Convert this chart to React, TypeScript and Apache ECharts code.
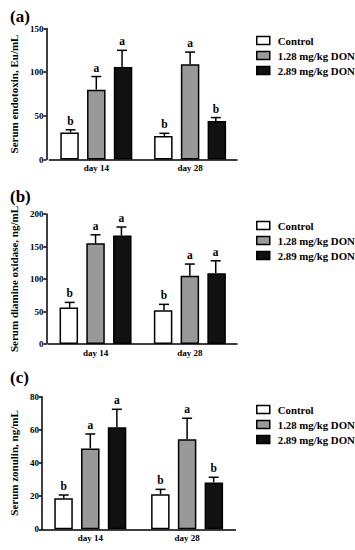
import React, { useEffect, useRef } from "react";
import * as echarts from "echarts";

const categories = ["day 14", "day 28"];
const groupNames = ["Control", "1.28 mg/kg DON", "2.89 mg/kg DON"];

// (a) Serum endotoxin
const endoControl = [31, 27];
const endoLow = [80, 109];
const endoHigh = [106, 44];
const endoControlErr = [3, 3];
const endoLowErr = [15, 14];
const endoHighErr = [19, 4];
const endoLetters = [["b", "b"], ["a", "a"], ["a", "b"]];

// (b) Serum diamine oxidase
const daoControl = [56, 52];
const daoLow = [155, 105];
const daoHigh = [167, 109];
const daoControlErr = [8, 9];
const daoLowErr = [13, 18];
const daoHighErr = [13, 19];
const daoLetters = [["b", "b"], ["a", "a"], ["a", "a"]];

// (c) Serum zonulin
const zonControl = [18.7, 21.1];
const zonLow = [48.8, 54.3];
const zonHigh = [61.5, 28.3];
const zonControlErr = [2, 3];
const zonLowErr = [8.7, 12.7];
const zonHighErr = [10.9, 3.1];
const zonLetters = [["b", "b"], ["a", "a"], ["a", "b"]];

const yMax = [150, 200, 80];
const yInterval = [50, 50, 20];
const panelLabels = ["(a)", "(b)", "(c)"];
const yNames = ["Serum endotoxin, Eu/mL", "Serum diamine oxidase, ng/mL", "Serum zonulin, ng/mL"];

const FONT = "'Liberation Serif', 'Times New Roman', serif";
const fills = ["#ffffff", "#999999", "#111111"];

const panels = [
  { means: [endoControl, endoLow, endoHigh], errs: [endoControlErr, endoLowErr, endoHighErr], letters: endoLetters },
  { means: [daoControl, daoLow, daoHigh], errs: [daoControlErr, daoLowErr, daoHighErr], letters: daoLetters },
  { means: [zonControl, zonLow, zonHigh], errs: [zonControlErr, zonLowErr, zonHighErr], letters: zonLetters },
];

const grids = [
  { left: 42, top: 28.5, width: 195, height: 131, yOffset: 3 },
  { left: 42, top: 214, width: 195, height: 130, yOffset: 2 },
  { left: 39.5, top: 396.7, width: 196, height: 132.6, yOffset: 0 },
];
const legendTops = [30, 215, 399];
const titleTops = [3, 183, 364];

export default function App() {
  const ref = useRef<HTMLDivElement>(null);
  useEffect(() => {
    if (!ref.current) return;
    const chart = echarts.init(ref.current, null, { renderer: "svg" });
    const series: any[] = [];
    const offsets = [-0.2744, 0, 0.2744];
    panels.forEach((p, pi) => {
      p.means.forEach((m, gi) => {
        series.push({
          type: "bar",
          name: groupNames[gi],
          xAxisIndex: pi,
          yAxisIndex: pi,
          data: m,
          barWidth: 18.5,
          barGap: "44.6%",
          itemStyle: { color: fills[gi], borderColor: "#000", borderWidth: 1.5 },
        });
      });
      p.means.forEach((m, gi) => {
        const data = m.map((v, ci) => [ci, v, v + p.errs[gi][ci], p.letters[gi][ci]]);
        series.push({
          type: "custom",
          xAxisIndex: pi,
          yAxisIndex: pi,
          data,
          encode: { x: 0, y: [1, 2] },
          z: 5,
          renderItem: (params: any, api: any) => {
            const ci = api.value(0);
            const p0 = api.coord([ci, api.value(1)]);
            const p1 = api.coord([ci, api.value(2)]);
            const bw = api.size([1, 0])[0];
            const x = p0[0] + offsets[gi] * bw;
            const letter = data[params.dataIndex][3];
            const st = { stroke: "#000", lineWidth: 1.5 };
            return {
              type: "group",
              children: [
                { type: "line", shape: { x1: x, y1: p0[1], x2: x, y2: p1[1] }, style: st },
                { type: "line", shape: { x1: x - 5, y1: p1[1], x2: x + 5, y2: p1[1] }, style: st },
                {
                  type: "text",
                  x,
                  y: p1[1] - 3,
                  style: {
                    text: letter,
                    fill: "#000",
                    font: `bold 11.5px ${FONT}`,
                    textAlign: "center",
                    textVerticalAlign: "bottom",
                  },
                },
              ],
            };
          },
        });
      });
    });

    const option: any = {
      animation: false,
      backgroundColor: "#fff",
      title: panelLabels.map((t, i) => ({
        text: t,
        left: 5,
        top: titleTops[i],
        textStyle: { fontFamily: FONT, fontWeight: "bold", fontSize: 17, color: "#000" },
      })),
      legend: legendTops.map((top) => ({
        orient: "vertical",
        left: 251,
        top,
        itemWidth: 13,
        itemHeight: 8,
        itemGap: 4,
        icon: "rect",
        selectedMode: false,
        data: groupNames.map((n, gi) => ({
          name: n,
          itemStyle: { color: fills[gi], borderColor: "#000", borderWidth: 1.5 },
        })),
        textStyle: { fontFamily: FONT, fontWeight: "bold", fontSize: 10.8, color: "#000", padding: [0, 0, 0, 3] },
      })),
      grid: grids.map((g) => ({ left: g.left, top: g.top, width: g.width, height: g.height })),
      xAxis: grids.map((g, i) => ({
        type: "category",
        gridIndex: i,
        data: categories,
        axisLine: { lineStyle: { color: "#000", width: 1.5 } },
        axisTick: { alignWithLabel: true, length: 3, lineStyle: { color: "#000", width: 1.5 } },
        axisLabel: { fontFamily: FONT, fontWeight: "bold", fontSize: 9, color: "#000", margin: 4 },
      })),
      yAxis: grids.map((g, i) => ({
        type: "value",
        gridIndex: i,
        min: 0,
        max: yMax[i],
        interval: yInterval[i],
        offset: g.yOffset,
        name: yNames[i],
        nameLocation: "middle",
        nameGap: 19,
        nameTextStyle: { fontFamily: FONT, fontWeight: "bold", fontSize: 11, color: "#000" },
        splitLine: { show: false },
        axisLine: { show: true, lineStyle: { color: "#000", width: 1.5 } },
        axisTick: { show: true, length: 3, lineStyle: { color: "#000", width: 1.5 } },
        axisLabel: { fontFamily: FONT, fontWeight: "bold", fontSize: 9, color: "#000", margin: 3 },
      })),
      series,
    };
    chart.setOption(option);
    return () => chart.dispose();
  }, []);
  return <div ref={ref} style={{ width: 355, height: 550, position: "absolute", left: 0, top: 0 }} />;
}
